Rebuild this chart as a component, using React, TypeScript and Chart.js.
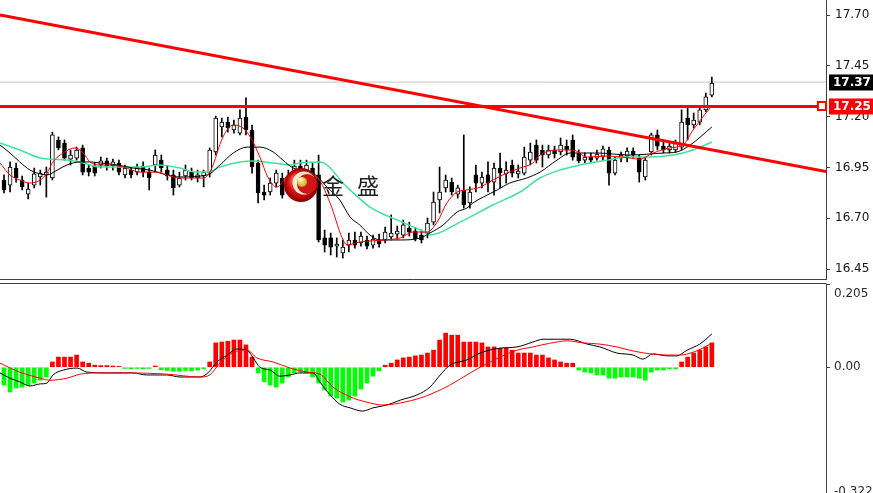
import React, { useEffect, useRef } from "react";
import { Chart, registerables } from "chart.js";

Chart.register(...registerables);

// ---------- Candles (one per bar) ----------
const opens = [
  16.888, 16.863, 16.947, 16.888, 16.819, 16.863, 16.903, 16.913, 16.898, 17.085,
  17.070, 16.991, 16.996, 17.046, 16.947, 16.957, 16.962, 16.982, 16.957, 16.972,
  16.913, 16.937, 16.927, 16.957, 16.927, 16.962, 16.986, 16.937, 16.913, 16.863,
  16.908, 16.927, 16.898, 16.908, 16.922, 17.026, 17.149, 17.173, 17.134, 17.119,
  17.198, 17.134, 16.972, 16.829, 16.829, 16.873, 16.898, 16.863, 16.908, 16.957,
  16.927, 16.947, 16.913, 16.603, 16.603, 16.563, 16.529, 16.568, 16.593, 16.578,
  16.593, 16.568, 16.593, 16.593, 16.608, 16.622, 16.617, 16.652, 16.637, 16.617,
  16.627, 16.681, 16.790, 16.849, 16.878, 16.819, 16.839, 16.775, 16.913, 16.873,
  16.913, 16.878, 16.947, 16.918, 16.962, 16.918, 16.922, 16.986, 17.060, 17.036,
  17.011, 17.036, 17.026, 17.055, 17.085, 17.021, 16.986, 17.001, 16.996, 17.006,
  17.036, 16.922, 16.996, 17.006, 17.031, 16.996, 16.903, 17.026, 17.110, 17.055,
  17.036, 17.036, 17.050, 17.193, 17.159, 17.173, 17.233, 17.306,
];
const closes = [
  16.839, 16.952, 16.898, 16.854, 16.844, 16.918, 16.922, 16.927, 17.110, 17.046,
  16.996, 17.011, 17.036, 16.927, 16.927, 16.922, 16.982, 16.957, 16.977, 16.927,
  16.947, 16.913, 16.952, 16.927, 16.898, 17.011, 16.947, 16.908, 16.849, 16.898,
  16.937, 16.898, 16.913, 16.927, 17.036, 17.193, 17.173, 17.144, 17.159, 17.193,
  17.134, 16.952, 16.824, 16.814, 16.873, 16.922, 16.814, 16.903, 16.957, 16.927,
  16.962, 16.913, 16.593, 16.568, 16.558, 16.573, 16.558, 16.593, 16.568, 16.612,
  16.563, 16.598, 16.573, 16.632, 16.627, 16.637, 16.667, 16.632, 16.598, 16.593,
  16.676, 16.780, 16.829, 16.888, 16.829, 16.849, 16.765, 16.829, 16.873, 16.903,
  16.873, 16.947, 16.922, 16.937, 16.922, 16.932, 17.001, 17.026, 16.986, 17.011,
  17.036, 17.016, 17.060, 17.036, 17.001, 16.982, 17.001, 16.986, 17.016, 17.041,
  16.922, 16.986, 17.011, 17.031, 17.011, 16.927, 16.986, 17.110, 17.055, 17.036,
  17.055, 17.070, 17.173, 17.159, 17.183, 17.233, 17.297, 17.365,
];
const highs = [
  16.913, 16.977, 16.972, 16.908, 16.873, 16.947, 16.937, 16.952, 17.124, 17.100,
  17.085, 17.036, 17.050, 17.060, 16.962, 16.972, 17.001, 16.996, 16.991, 16.986,
  16.962, 16.947, 16.967, 16.977, 16.947, 17.036, 17.011, 16.957, 16.937, 16.927,
  16.962, 16.947, 16.937, 16.937, 17.046, 17.203, 17.193, 17.198, 17.183, 17.233,
  17.292, 17.159, 16.986, 16.863, 16.898, 16.937, 16.922, 16.937, 16.986, 16.986,
  16.986, 16.972, 17.011, 16.642, 16.627, 16.603, 16.593, 16.627, 16.632, 16.632,
  16.612, 16.617, 16.622, 16.657, 16.716, 16.662, 16.691, 16.681, 16.652, 16.642,
  16.701, 16.829, 16.952, 16.913, 16.898, 16.863, 17.110, 16.854, 16.962, 16.927,
  16.977, 16.972, 17.021, 16.977, 16.986, 16.962, 17.050, 17.070, 17.085, 17.060,
  17.060, 17.055, 17.095, 17.085, 17.110, 17.036, 17.021, 17.021, 17.036, 17.055,
  17.050, 17.001, 17.026, 17.046, 17.046, 17.011, 17.001, 17.119, 17.134, 17.085,
  17.075, 17.085, 17.233, 17.247, 17.218, 17.242, 17.316, 17.395,
];
const lows = [
  16.824, 16.829, 16.878, 16.839, 16.795, 16.849, 16.863, 16.804, 16.888, 17.036,
  16.986, 16.962, 16.986, 16.913, 16.908, 16.908, 16.947, 16.937, 16.937, 16.913,
  16.898, 16.898, 16.913, 16.903, 16.839, 16.927, 16.927, 16.888, 16.814, 16.854,
  16.888, 16.888, 16.878, 16.854, 16.903, 17.011, 17.100, 17.124, 17.119, 17.110,
  17.110, 16.922, 16.775, 16.790, 16.814, 16.854, 16.799, 16.849, 16.888, 16.913,
  16.898, 16.888, 16.583, 16.534, 16.519, 16.509, 16.504, 16.534, 16.553, 16.563,
  16.549, 16.553, 16.558, 16.578, 16.593, 16.598, 16.603, 16.612, 16.588, 16.578,
  16.603, 16.667, 16.726, 16.829, 16.814, 16.799, 16.750, 16.750, 16.829, 16.849,
  16.829, 16.814, 16.849, 16.873, 16.903, 16.898, 16.913, 16.962, 16.972, 16.952,
  16.996, 16.996, 17.011, 17.011, 16.986, 16.972, 16.972, 16.972, 16.986, 16.986,
  16.863, 16.913, 16.977, 16.977, 16.996, 16.878, 16.888, 17.011, 17.036, 17.021,
  17.021, 17.026, 17.036, 17.085, 17.144, 17.159, 17.223, 17.297,
];

// ---------- Moving averages, read as [bar, price] ----------
const maFast = [
  [-0.66, 16.972], [1.0, 16.913], [2.6, 16.888], [4.3, 16.873], [6.0, 16.888], [7.1, 16.922],
  [8.1, 16.977], [9.8, 17.021], [11.7, 17.046], [13.1, 17.021], [14.2, 16.977], [15.9, 16.962],
  [17.5, 16.962], [19.7, 16.952], [22.5, 16.927], [25.3, 16.927], [26.9, 16.913], [29.1, 16.898],
  [33.0, 16.898], [34.2, 16.937], [36.2, 17.100], [37.9, 17.159], [39.5, 17.144], [40.7, 17.100],
  [42.3, 17.001], [43.6, 16.903], [45.1, 16.853], [47.3, 16.922], [49.4, 16.927], [51.9, 16.898],
  [53.9, 16.775], [55.9, 16.603], [56.7, 16.568], [58.8, 16.583], [63.0, 16.593], [65.5, 16.603],
  [67.6, 16.632], [69.9, 16.632], [71.6, 16.681], [73.2, 16.775], [74.9, 16.829], [76.5, 16.839],
  [78.7, 16.853], [80.8, 16.888], [83.1, 16.922], [85.3, 16.947], [87.4, 16.972], [88.6, 17.011],
  [91.9, 17.036], [94.0, 17.036], [96.4, 17.001], [99.7, 17.006], [102.3, 17.001], [105.1, 16.991],
  [107.3, 17.021], [110.1, 17.046], [112.2, 17.060], [113.9, 17.134], [115.5, 17.198], [116.7, 17.242],
];
const maMid = [
  [-0.66, 17.060], [1.0, 17.021], [2.6, 16.977], [4.3, 16.937], [5.5, 16.922], [7.1, 16.913],
  [8.8, 16.937], [10.4, 16.962], [12.6, 16.977], [14.2, 16.977], [15.9, 16.972], [18.7, 16.962],
  [21.3, 16.947], [24.1, 16.937], [26.9, 16.913], [29.1, 16.903], [33.6, 16.913], [35.7, 16.962],
  [37.9, 17.021], [40.2, 17.050], [42.3, 17.050], [44.5, 17.026], [46.1, 16.986], [47.8, 16.947],
  [51.1, 16.922], [53.4, 16.853], [55.5, 16.790], [57.2, 16.706], [58.8, 16.667], [60.5, 16.617],
  [62.1, 16.593], [65.5, 16.593], [68.8, 16.603], [70.4, 16.627], [72.6, 16.667], [74.9, 16.731],
  [76.5, 16.750], [77.5, 16.775], [79.2, 16.804], [81.5, 16.839], [83.6, 16.873], [86.4, 16.898],
  [88.6, 16.927], [91.4, 16.986], [93.6, 17.021], [98.0, 17.021], [103.5, 17.011], [109.0, 17.021],
  [111.2, 17.026], [113.4, 17.060], [117.0, 17.149],
];
const maSlow = [
  [-0.66, 17.070], [2.6, 17.036], [6.0, 16.996], [7.6, 16.991], [10.4, 16.986], [13.1, 16.972],
  [15.9, 16.952], [22.5, 16.952], [25.8, 16.962], [29.1, 16.947], [31.6, 16.927], [33.6, 16.927],
  [35.7, 16.952], [39.0, 16.977], [41.2, 16.982], [44.5, 16.972], [47.3, 16.962], [48.9, 16.972],
  [52.2, 16.977], [56.7, 16.853], [60.5, 16.755], [65.0, 16.691], [68.8, 16.642], [70.4, 16.617],
  [75.4, 16.681], [80.8, 16.765], [85.3, 16.829], [88.6, 16.898], [91.9, 16.937], [95.2, 16.962],
  [99.7, 16.986], [103.0, 17.001], [106.8, 17.001], [110.6, 17.011], [113.9, 17.036], [117.0, 17.075],
];

// ---------- Drawn objects ----------
const trendLine = [[-0.66, 17.70], [135.87, 16.93]];
const resistance = 17.25;
const resistanceEnd = 135.2;
const lastPrice = 17.37;
const priceTicks = [16.45, 16.70, 16.95, 17.20, 17.45, 17.70];
const priceTickLabels = ["16.45", "16.70", "16.95", "17.20", "17.45", "17.70"];

// ---------- MACD sub-window ----------
const histogram = [
  -0.044, -0.061, -0.051, -0.049, -0.044, -0.039, -0.032, -0.024, 0.013, 0.025,
  0.025, 0.025, 0.030, 0.013, 0.010, 0.005, 0.004, 0.004, 0.003, 0.002,
  -0.003, -0.004, -0.003, -0.004, -0.003, 0.003, -0.006, -0.008, -0.010, -0.010,
  -0.008, -0.009, -0.007, -0.004, 0.013, 0.060, 0.062, 0.064, 0.067, 0.067,
  0.055, 0.025, -0.014, -0.036, -0.044, -0.049, -0.039, -0.024, -0.014, -0.012,
  -0.014, -0.024, -0.039, -0.056, -0.071, -0.076, -0.086, -0.081, -0.071, -0.054,
  -0.039, -0.022, -0.009, 0.005, 0.010, 0.018, 0.023, 0.025, 0.028, 0.030,
  0.035, 0.042, 0.067, 0.084, 0.079, 0.079, 0.062, 0.062, 0.062, 0.060,
  0.050, 0.050, 0.047, 0.047, 0.042, 0.035, 0.035, 0.035, 0.030, 0.030,
  0.023, 0.018, 0.013, 0.010, 0.010, -0.007, -0.012, -0.014, -0.019, -0.019,
  -0.027, -0.027, -0.024, -0.024, -0.024, -0.027, -0.032, -0.012, -0.007, -0.007,
  -0.004, -0.004, 0.013, 0.025, 0.035, 0.042, 0.050, 0.060,
];
const macdMain = [
  [-0.66, -0.014], [1.0, -0.027], [2.6, -0.036], [4.3, -0.046], [6.0, -0.041], [7.1, -0.039],
  [8.1, -0.019], [9.8, -0.007], [12.1, -0.002], [13.7, -0.012], [17.5, -0.014], [21.3, -0.014],
  [23.6, -0.019], [26.9, -0.019], [29.1, -0.024], [32.4, -0.024], [33.7, -0.014], [35.2, 0.013],
  [36.9, 0.030], [38.5, 0.045], [40.2, 0.042], [41.2, 0.023], [42.3, 0.000], [44.0, -0.007],
  [45.6, -0.022], [47.3, -0.019], [48.9, -0.014], [51.1, -0.014], [52.2, -0.036], [53.9, -0.068],
  [55.5, -0.091], [57.2, -0.100], [59.3, -0.108], [61.0, -0.100], [63.3, -0.093], [65.5, -0.081],
  [68.3, -0.068], [70.4, -0.049], [72.1, -0.019], [73.7, 0.005], [76.5, 0.018], [78.7, 0.035],
  [82.0, 0.047], [84.8, 0.050], [87.4, 0.062], [89.1, 0.069], [93.6, 0.069], [96.4, 0.057],
  [98.5, 0.050], [101.3, 0.035], [104.0, 0.030], [105.6, 0.020], [107.3, 0.033], [109.6, 0.028],
  [111.2, 0.028], [112.9, 0.042], [115.0, 0.057], [117.0, 0.082],
];
const macdSignal = [
  [-0.66, 0.010], [2.6, -0.012], [6.0, -0.027], [7.6, -0.032], [10.4, -0.027], [12.6, -0.017],
  [15.9, -0.014], [21.3, -0.014], [26.9, -0.017], [32.4, -0.024], [34.0, -0.019], [35.7, 0.010],
  [37.9, 0.037], [40.2, 0.042], [41.8, 0.023], [44.5, 0.013], [47.3, -0.002], [50.1, -0.012],
  [52.2, -0.017], [54.4, -0.049], [57.2, -0.073], [60.0, -0.086], [62.6, -0.093], [65.5, -0.088],
  [68.8, -0.076], [70.9, -0.064], [73.7, -0.044], [76.5, -0.019], [78.7, 0.000], [82.0, 0.025],
  [84.8, 0.042], [87.4, 0.050], [90.2, 0.059], [93.1, 0.065], [95.7, 0.060], [98.5, 0.057],
  [101.3, 0.050], [104.0, 0.040], [106.8, 0.033], [109.6, 0.030], [111.7, 0.030], [113.9, 0.037],
  [117.2, 0.060],
];
const macdTicks = [-0.322, 0, 0.205];
const macdTickLabels = ["-0.322", "0.00", "0.205"];

// ---------- Axis ranges ----------
const X_MIN = -0.66;
const X_MAX = 135.87;
const PRICE_MIN = 16.396;
const PRICE_MAX = 17.774;
const MACD_MIN = -0.322;
const MACD_MAX = 0.205;

const AXIS_W = 47;
const FRAME = "#404040";
const LABEL_FONT = '"DejaVu Sans", sans-serif';

const toPoints = (pairs: number[][]) => pairs.map(([x, y]) => ({ x, y }));
const lineBase = {
  type: "line",
  pointRadius: 0,
  cubicInterpolationMode: "monotone",
  fill: false,
};

const mainPlugin = {
  id: "mainDecor",
  afterDatasetsDraw(chart: any) {
    const ctx = chart.ctx;
    const cx = 301;
    const cy = 185;
    ctx.save();
    // watermark logo
    const g = ctx.createRadialGradient(cx - 6, cy - 6, 2, cx, cy, 17);
    g.addColorStop(0, "#ff6a55");
    g.addColorStop(0.55, "#d81212");
    g.addColorStop(1, "#8c0000");
    ctx.fillStyle = g;
    ctx.beginPath();
    ctx.arc(cx, cy, 17, 0, Math.PI * 2);
    ctx.fill();
    ctx.fillStyle = "#f6e6d2";
    ctx.beginPath();
    ctx.arc(cx + 3, cy - 2, 11.5, 0, Math.PI * 2);
    ctx.fill();
    ctx.fillStyle = "#cf1515";
    ctx.beginPath();
    ctx.arc(cx + 6, cy - 1, 10, 0, Math.PI * 2);
    ctx.fill();
    const gg = ctx.createRadialGradient(cx - 1, cy - 6, 1, cx + 1, cy - 3, 6);
    gg.addColorStop(0, "#fff7c0");
    gg.addColorStop(1, "#c49a00");
    ctx.fillStyle = gg;
    ctx.beginPath();
    ctx.arc(cx + 1, cy - 3, 5, 0, Math.PI * 2);
    ctx.fill();
    ctx.fillStyle = "#1e1e1e";
    ctx.font = '22px "Noto Sans CJK SC", sans-serif';
    ctx.textBaseline = "middle";
    ctx.textAlign = "left";
    ctx.fillText("金", 322, 186);
    ctx.fillText("盛", 357, 186);
    ctx.restore();
  },
  afterDraw(chart: any) {
    const ctx = chart.ctx;
    const area = chart.chartArea;
    const y = chart.scales.y;
    const x = chart.scales.x;
    ctx.save();
    // bottom frame
    ctx.strokeStyle = FRAME;
    ctx.lineWidth = 1;
    ctx.beginPath();
    ctx.moveTo(0, area.bottom - 0.5);
    ctx.lineTo(area.right + 0.5, area.bottom - 0.5);
    ctx.stroke();
    ctx.font = "bold 12px " + LABEL_FONT;
    ctx.textBaseline = "middle";
    ctx.textAlign = "left";
    // last price label
    const yl = Math.round(y.getPixelForValue(lastPrice));
    ctx.fillStyle = "#000";
    ctx.fillRect(area.right + 3, yl - 7.5, 44, 16);
    ctx.fillStyle = "#fff";
    ctx.fillText(lastPrice.toFixed(2), area.right + 7, yl + 0.5);
    // resistance label + handle
    const yr = Math.round(y.getPixelForValue(resistance));
    ctx.fillStyle = "#ff0000";
    ctx.fillRect(area.right + 3, yr - 7.5, 44, 16);
    ctx.fillStyle = "#fff";
    ctx.fillText(resistance.toFixed(2), area.right + 7, yr + 0.5);
    const hx = x.getPixelForValue(resistanceEnd);
    ctx.fillStyle = "#fff";
    ctx.fillRect(hx - 4, yr - 4, 8, 8);
    ctx.strokeStyle = "#ff0000";
    ctx.lineWidth = 2;
    ctx.strokeRect(hx - 4, yr - 4, 8, 8);
    ctx.restore();
  },
};

const subPlugin = {
  id: "subDecor",
  afterDraw(chart: any) {
    const ctx = chart.ctx;
    const area = chart.chartArea;
    const y = chart.scales.y;
    ctx.save();
    ctx.strokeStyle = FRAME;
    ctx.lineWidth = 1;
    ctx.beginPath();
    ctx.moveTo(0, area.top - 0.5);
    ctx.lineTo(area.right + 0.5, area.top - 0.5);
    ctx.stroke();
    ctx.fillStyle = "#2a2a2a";
    ctx.font = "12px " + LABEL_FONT;
    ctx.textBaseline = "middle";
    ctx.textAlign = "left";
    const offsets = [-6, 0, 10];
    macdTicks.forEach((v, i) => {
      ctx.fillText(macdTickLabels[i], area.right + 8, y.getPixelForValue(v) + offsets[i]);
    });
    ctx.restore();
  },
};

function yAxis(min: number, max: number, ticks: number[], labels: string[] | null) {
  return {
    type: "linear",
    position: "right",
    min,
    max,
    afterBuildTicks: (s: any) => {
      s.ticks = ticks.map((v) => ({ value: v }));
    },
    afterFit: (s: any) => {
      s.width = AXIS_W;
      s.paddingTop = 0;
      s.paddingBottom = 0;
    },
    grid: { drawOnChartArea: false, drawTicks: true, tickLength: 4, color: FRAME },
    border: { display: true, color: FRAME, width: 1 },
    ticks: {
      display: !!labels,
      autoSkip: false,
      padding: 5,
      color: "#141414",
      font: { family: LABEL_FONT, size: 12 },
      callback: (_v: any, i: number) => (labels ? labels[i] : ""),
    },
  };
}

const xAxis = { type: "linear", min: X_MIN, max: X_MAX, display: false, offset: false };

function mainConfig(): any {
  const idx = closes.map((_, i) => i);
  return {
    type: "bar",
    data: {
      datasets: [
        {
          ...lineBase,
          data: [{ x: X_MIN, y: lastPrice }, { x: X_MAX, y: lastPrice }],
          borderColor: "#c4c4c4",
          borderWidth: 1,
          order: 9,
        },
        {
          type: "bar",
          data: idx.map((i) => ({ x: i, y: [lows[i], highs[i]] })),
          backgroundColor: "#000",
          barThickness: 1,
          grouped: false,
          order: 8,
        },
        {
          type: "bar",
          data: idx.map((i) => ({ x: i, y: [opens[i], closes[i]] })),
          backgroundColor: idx.map((i) => (closes[i] >= opens[i] ? "#ffffff" : "#000000")),
          borderColor: "#000",
          borderWidth: 1,
          borderSkipped: false,
          barThickness: 4,
          grouped: false,
          order: 7,
        },
        { ...lineBase, data: toPoints(maSlow), borderColor: "#3fe39c", borderWidth: 1.5, order: 5 },
        { ...lineBase, data: toPoints(maMid), borderColor: "#000000", borderWidth: 1, order: 4 },
        { ...lineBase, data: toPoints(maFast), borderColor: "#ff0000", borderWidth: 1, order: 3 },
        {
          ...lineBase,
          data: toPoints(trendLine),
          borderColor: "#ff0000",
          borderWidth: 3,
          order: 1,
        },
        {
          ...lineBase,
          data: [{ x: X_MIN, y: resistance }, { x: resistanceEnd, y: resistance }],
          borderColor: "#ff0000",
          borderWidth: 3,
          order: 1,
        },
      ],
    },
    options: {
      responsive: false,
      animation: false,
      events: [],
      layout: { padding: 0 },
      plugins: { legend: { display: false }, tooltip: { enabled: false } },
      scales: {
        x: xAxis,
        y: yAxis(PRICE_MIN, PRICE_MAX, priceTicks, priceTickLabels),
      },
    },
    plugins: [mainPlugin],
  };
}

function subConfig(): any {
  const idx = histogram.map((_, i) => i);
  return {
    type: "bar",
    data: {
      datasets: [
        {
          type: "bar",
          data: idx.map((i) => ({ x: i, y: histogram[i] })),
          backgroundColor: idx.map((i) => (histogram[i] >= 0 ? "#ff0000" : "#00ff00")),
          barThickness: 4,
          grouped: false,
          order: 5,
        },
        { ...lineBase, data: toPoints(macdMain), borderColor: "#000000", borderWidth: 1, order: 2 },
        { ...lineBase, data: toPoints(macdSignal), borderColor: "#ff0000", borderWidth: 1, order: 1 },
      ],
    },
    options: {
      responsive: false,
      animation: false,
      events: [],
      layout: { padding: { top: 4, bottom: 0, left: 0, right: 0 } },
      plugins: { legend: { display: false }, tooltip: { enabled: false } },
      scales: {
        x: xAxis,
        y: yAxis(MACD_MIN, MACD_MAX, macdTicks, null),
      },
    },
    plugins: [subPlugin],
  };
}

export default function App() {
  const topRef = useRef<HTMLCanvasElement>(null);
  const botRef = useRef<HTMLCanvasElement>(null);
  useEffect(() => {
    const c1 = new Chart(topRef.current as HTMLCanvasElement, mainConfig());
    const c2 = new Chart(botRef.current as HTMLCanvasElement, subConfig());
    return () => {
      c1.destroy();
      c2.destroy();
    };
  }, []);
  return (
    <div
      style={{
        position: "fixed",
        left: 0,
        top: 0,
        width: 873,
        height: 493,
        overflow: "hidden",
        background: "#ffffff",
      }}
    >
      <canvas
        ref={topRef}
        width={873}
        height={280}
        style={{ position: "absolute", left: 0, top: 0, width: 873, height: 280 }}
      />
      <canvas
        ref={botRef}
        width={873}
        height={218}
        style={{ position: "absolute", left: 0, top: 280, width: 873, height: 218 }}
      />
    </div>
  );
}
